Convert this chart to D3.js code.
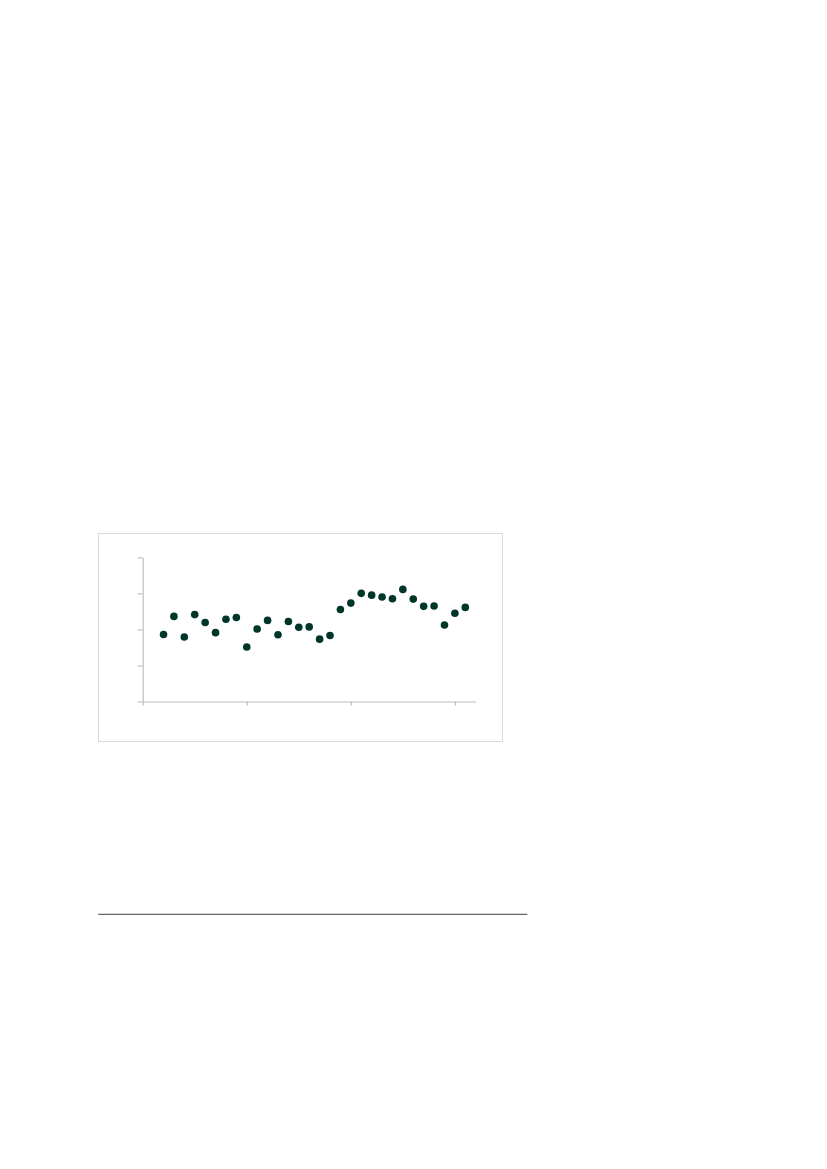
<!DOCTYPE html>
<html>
<head>
<meta charset="utf-8">
<script src="https://cdn.jsdelivr.net/npm/d3@7"></script>
<style>
  body { margin: 0; background: #fff; }
</style>
</head>
<body>
<div id="chart"></div>
<script>
// yearly series, values (no axis labels on the original)
var years = d3.range(1972, 2002);
var values = [1.86, 2.36, 1.79, 2.41, 2.19, 1.91, 2.28, 2.33, 1.51, 2.01,
              2.25, 1.85, 2.22, 2.06, 2.07, 1.73, 1.83, 2.55, 2.73, 3.00,
              2.95, 2.90, 2.85, 3.11, 2.84, 2.64, 2.65, 2.12, 2.45, 2.61];
var xTicks = [1970, 1980, 1990, 2000];
var yTicks = [0, 1, 2, 3, 4];

var width = 827, height = 1169;

var svg = d3.select("#chart").append("svg")
    .attr("width", width)
    .attr("height", height);

// chart frame
svg.append("rect")
    .attr("x", 98.5).attr("y", 533.5)
    .attr("width", 404).attr("height", 208)
    .attr("fill", "#fff")
    .attr("stroke", "#d9d9d9")
    .attr("stroke-width", 1);

var x = d3.scaleLinear().domain([1970, 2002]).range([142.7, 475.7]);
var y = d3.scaleLinear().domain([0, 4]).range([701.5, 557.3]);

// x axis
var gx = svg.append("g")
    .attr("transform", "translate(0," + y(0) + ")")
    .call(d3.axisBottom(x).tickValues(xTicks).tickSize(4).tickSizeOuter(0).tickFormat(""));

// y axis
var gy = svg.append("g")
    .attr("transform", "translate(" + x(1970) + ",0)")
    .call(d3.axisLeft(y).tickValues(yTicks).tickSize(5).tickSizeOuter(0).tickFormat(""));

[gx, gy].forEach(function(g) {
    g.select(".domain").attr("stroke", "#bfbfbf").attr("stroke-width", 1.2);
    g.selectAll(".tick line").attr("stroke", "#bfbfbf").attr("stroke-width", 1.2);
});

// points
svg.selectAll("circle.pt").data(values).enter().append("circle")
    .attr("class", "pt")
    .attr("cx", function(d, i) { return x(years[i]); })
    .attr("cy", function(d) { return y(d); })
    .attr("r", 3.8)
    .attr("fill", "#00352a");

// footnote rule
svg.append("line")
    .attr("x1", 98.3).attr("x2", 527.3)
    .attr("y1", 914.3).attr("y2", 914.3)
    .attr("stroke", "#666")
    .attr("stroke-width", 1.3);
</script>
</body>
</html>
